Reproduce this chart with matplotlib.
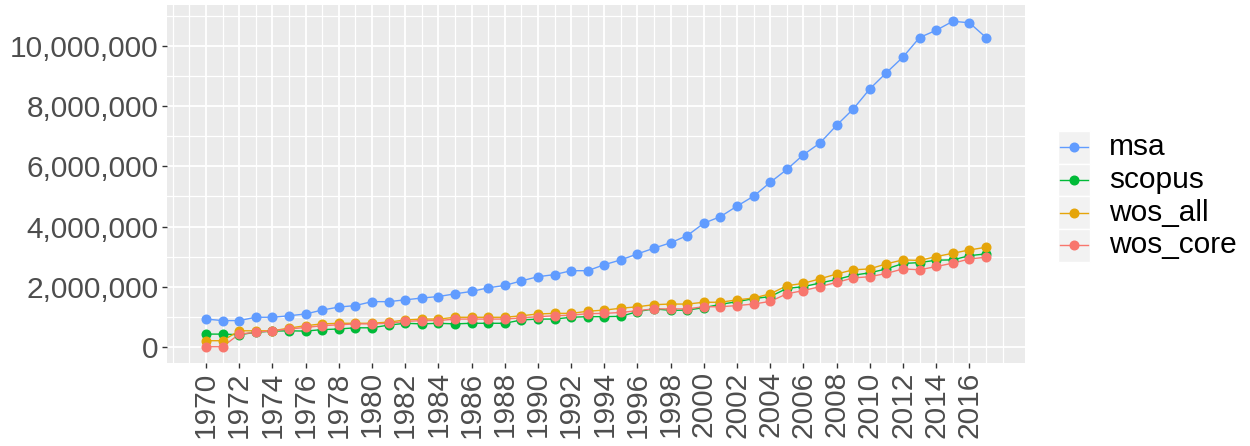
import matplotlib
matplotlib.use("Agg")
import matplotlib.pyplot as plt
from matplotlib.ticker import FuncFormatter, MultipleLocator, FixedLocator
from matplotlib.patches import Rectangle
from matplotlib.lines import Line2D

plt.rcParams['font.family'] = ['Liberation Sans', 'DejaVu Sans']

years = list(range(1970, 2018))

msa = [0.92, 0.87, 0.87, 0.98, 0.98, 1.03, 1.09, 1.22, 1.32, 1.37,
       1.50, 1.50, 1.56, 1.62, 1.67, 1.76, 1.84, 1.96, 2.04, 2.19,
       2.33, 2.40, 2.53, 2.53, 2.73, 2.89, 3.09, 3.28, 3.46, 3.70,
       4.11, 4.33, 4.68, 5.01, 5.47, 5.90, 6.39, 6.78, 7.37, 7.91,
       8.58, 9.12, 9.64, 10.29, 10.53, 10.83, 10.78, 10.29]
scopus = [0.42, 0.42, 0.40, 0.48, 0.52, 0.53, 0.52, 0.57, 0.59, 0.63,
          0.63, 0.72, 0.78, 0.76, 0.78, 0.76, 0.78, 0.78, 0.78, 0.89,
          0.92, 0.92, 0.98, 1.00, 1.00, 1.01, 1.17, 1.26, 1.21, 1.22,
          1.30, 1.41, 1.50, 1.60, 1.67, 1.94, 2.00, 2.12, 2.24, 2.38,
          2.46, 2.59, 2.77, 2.80, 2.88, 2.89, 3.03, 3.09]
wos_all = [0.20, 0.20, 0.53, 0.53, 0.53, 0.62, 0.70, 0.76, 0.78, 0.78,
           0.78, 0.82, 0.89, 0.92, 0.92, 0.98, 0.98, 0.98, 0.98, 1.03,
           1.09, 1.11, 1.11, 1.18, 1.22, 1.28, 1.33, 1.40, 1.42, 1.42,
           1.48, 1.48, 1.56, 1.62, 1.76, 2.03, 2.11, 2.26, 2.42, 2.56,
           2.59, 2.76, 2.89, 2.87, 3.00, 3.11, 3.22, 3.31]
wos_core = [0.00, 0.00, 0.42, 0.48, 0.53, 0.59, 0.64, 0.70, 0.73, 0.76,
            0.76, 0.78, 0.84, 0.87, 0.87, 0.92, 0.92, 0.92, 0.92, 0.96,
            1.00, 1.03, 1.05, 1.10, 1.11, 1.14, 1.20, 1.26, 1.26, 1.26,
            1.33, 1.33, 1.37, 1.42, 1.51, 1.76, 1.87, 2.00, 2.14, 2.29,
            2.33, 2.44, 2.59, 2.56, 2.67, 2.78, 2.92, 2.98]

series_names = ['msa', 'scopus', 'wos_all', 'wos_core']
series_vals = [msa, scopus, wos_all, wos_core]
colors = ['#619CFF', '#00BA38', '#E5A50A', '#F8766D']
x_tick_labels = [str(y) for y in range(1970, 2017, 2)]

W, H = 1250, 446
fig = plt.figure(figsize=(W / 100, H / 100), dpi=100)
L, R, T, B = 167, 1025, 5, 363
ax = fig.add_axes([L / W, 1 - B / H, (R - L) / W, (B - T) / H])
ax.set_facecolor('#EBEBEB')
for s in ax.spines.values():
    s.set_visible(False)

M = 1e6
ys = [[v * M for v in s] for s in series_vals]
for y, c in zip(ys, colors):
    ax.plot(years, y, color=c, lw=1.0, zorder=3)
for y, c in zip(ys, colors):
    ax.plot(years, y, ls='none', marker='o', ms=6.2, color=c, mec=c, zorder=4)

lo, hi = 0.0, 10.83 * M
ax.set_ylim(lo - 0.05 * (hi - lo), hi + 0.05 * (hi - lo))
ax.set_xlim(1970 - 0.05 * 47, 2017 + 0.05 * 47)

ax.yaxis.set_major_locator(MultipleLocator(2 * M))
ax.yaxis.set_minor_locator(FixedLocator([1 * M, 3 * M, 5 * M, 7 * M, 9 * M, 11 * M]))
ax.yaxis.set_major_formatter(FuncFormatter(lambda v, p: f"{int(round(v)):,}"))
ax.set_xticks(list(range(1970, 2017, 2)))
ax.set_xticklabels(x_tick_labels, rotation=90)
ax.xaxis.set_minor_locator(FixedLocator([y for y in range(1968, 2019) if y % 2 == 1] + [1968, 2018]))

ax.grid(which='major', color='white', lw=1.3, zorder=0)
ax.grid(which='minor', color='white', lw=0.9, zorder=0)
ax.set_axisbelow(True)

ax.tick_params(which='major', length=3.5, width=1.0, color='#333333',
               labelsize=21.5, labelcolor='#4D4D4D', pad=2.5)
ax.tick_params(which='minor', length=0)

# legend, drawn manually in figure pixel coordinates
def fx(px):
    return px / W

def fy(py):
    return 1 - py / H

row_h = 32.7
top0 = 131
for i, (name, c) in enumerate(zip(series_names, colors)):
    top = top0 + i * row_h
    fig.patches.append(Rectangle((fx(1058), fy(top + row_h)), 32 / W, row_h / H,
                                 transform=fig.transFigure, facecolor='#F2F2F2',
                                 edgecolor='white', lw=1.0, zorder=1))
    cy = top + row_h / 2
    fig.lines.append(Line2D([fx(1060), fx(1088)], [fy(cy), fy(cy)], transform=fig.transFigure,
                            color=c, lw=1.0, zorder=2))
    fig.lines.append(Line2D([fx(1074)], [fy(cy)], transform=fig.transFigure, ls='none',
                            marker='o', ms=6.2, color=c, zorder=3))
    fig.text(fx(1109), fy(cy), name, fontsize=21.5, color='black', va='center', ha='left')

fig.savefig('out.png', dpi=100, facecolor='white')
